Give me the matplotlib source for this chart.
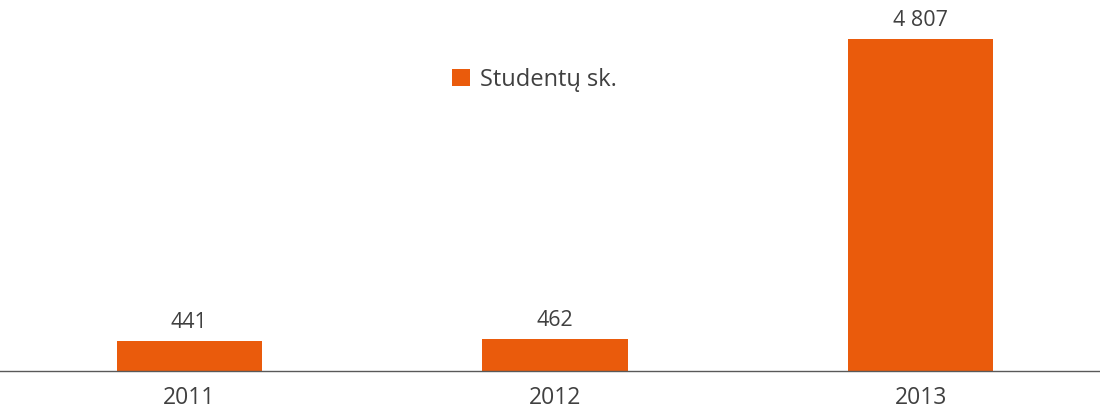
import matplotlib.pyplot as plt

years = ['2011', '2012', '2013']
students = [441, 462, 4807]
value_labels = ['441', '462', '4 807']
series_name = 'Studentų sk.'

plt.rcParams['font.family'] = ['Open Sans', 'DejaVu Sans']

fig = plt.figure(figsize=(11, 4.11), dpi=100)
ax = fig.add_axes([0, 40 / 411, 1, 371 / 411])

x = range(len(years))
bars = ax.bar(x, students, width=0.397, color='#EA5B0C', label=series_name)

for b, lab in zip(bars, value_labels):
    ax.text(b.get_x() + b.get_width() / 2, b.get_height() + 110, lab,
            ha='center', va='bottom', fontsize=15.5, color='#404040')

ax.set_xlim(-0.517, 2.49)
ax.set_ylim(0, 5370)
ax.set_xticks(list(x))
ax.set_xticklabels(years, fontsize=16.5, color='#404040')
ax.tick_params(axis='x', length=0, pad=11)
ax.set_yticks([])
for s in ['top', 'right', 'left']:
    ax.spines[s].set_visible(False)
ax.spines['bottom'].set_color('#595959')
ax.spines['bottom'].set_linewidth(1)

ax.legend(loc='upper left', bbox_to_anchor=(0.392, 0.875), frameon=False,
          fontsize=17, handlelength=0.75, handleheight=0.75, handletextpad=0.4,
          labelcolor='#404040')

fig.savefig('out.png', dpi=100)
